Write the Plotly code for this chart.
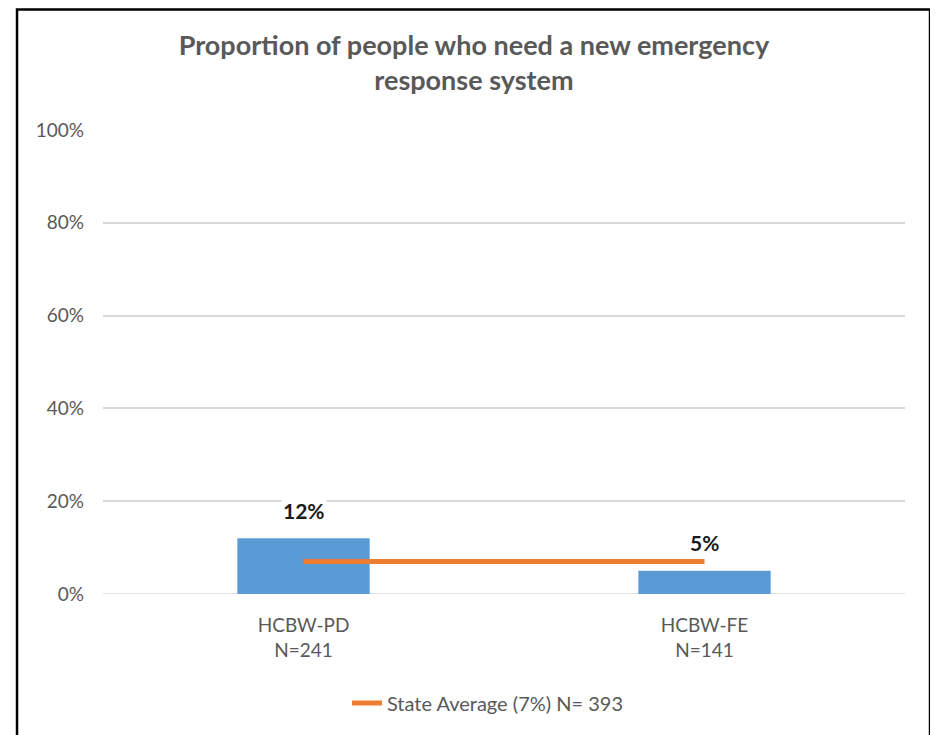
import plotly.graph_objects as go

categories = ["HCBW-PD<br>N=241", "HCBW-FE<br>N=141"]
values = [0.12, 0.05]
value_labels = ["12%", "5%"]
state_avg = [0.07, 0.07]
state_name = "State Average (7%) N= 393"
title = "Proportion of people who need a new emergency<br>response system"
ytick_vals = [0, 0.2, 0.4, 0.6, 0.8, 1.0]
ytick_text = ["0%", "20%", "40%", "60%", "80%", "100%"]

FONT = "Lato"
GRAY = "#595959"

fig = go.Figure()
fig.add_trace(go.Bar(
    x=categories, y=values, width=0.33,
    marker=dict(color="#5B9BD5", line=dict(width=0)),
    showlegend=False, hoverinfo="skip",
))
fig.add_trace(go.Scatter(
    x=categories, y=state_avg, mode="lines", name=state_name,
    line=dict(color="#ED7D31", width=5),
))

for c, v, t in zip(categories, values, value_labels):
    fig.add_annotation(
        x=c, y=v, text="<b>%s</b>" % t, showarrow=False,
        yanchor="middle", yshift=28, bgcolor="white",
        font=dict(family=FONT, size=21, color="#1a1a1a"),
    )

fig.add_shape(
    type="rect", xref="paper", yref="paper",
    x0=-0.1072, x1=1.0312, y0=-0.375, y1=1.2597,
    line=dict(color="black", width=2.5), fillcolor="rgba(0,0,0,0)", layer="above",
)

fig.update_layout(
    width=930, height=727,
    margin=dict(l=95, r=33, t=122, b=141),
    paper_bgcolor="white", plot_bgcolor="white",
    title=dict(
        text="<b>%s</b>" % title, x=0.501, xanchor="center",
        y=0.935, yanchor="middle",
        font=dict(family=FONT, size=27, color=GRAY),
    ),
    font=dict(family=FONT, size=18, color=GRAY),
    legend=dict(
        orientation="h", x=0.48, xanchor="center", y=-0.235, yanchor="middle",
        font=dict(family=FONT, size=20, color=GRAY),
    ),
    bargap=0.67,
)
fig.update_yaxes(
    range=[0, 1.0], tickvals=ytick_vals, ticktext=ytick_text,
    showgrid=True, gridcolor="#D9D9D9", gridwidth=1.5,
    zeroline=False, showline=False, ticklabelstandoff=18,
    tickfont=dict(family=FONT, size=19, color=GRAY),
)
fig.update_xaxes(
    showgrid=False, showline=False, zeroline=False, ticklabelstandoff=18,
    tickfont=dict(family=FONT, size=19, color=GRAY),
)
fig.add_shape(type="line", xref="paper", yref="y", x0=0, x1=1, y0=0, y1=0,
              line=dict(color="#D9D9D9", width=1.5), layer="below")

fig.write_html("out.html")
